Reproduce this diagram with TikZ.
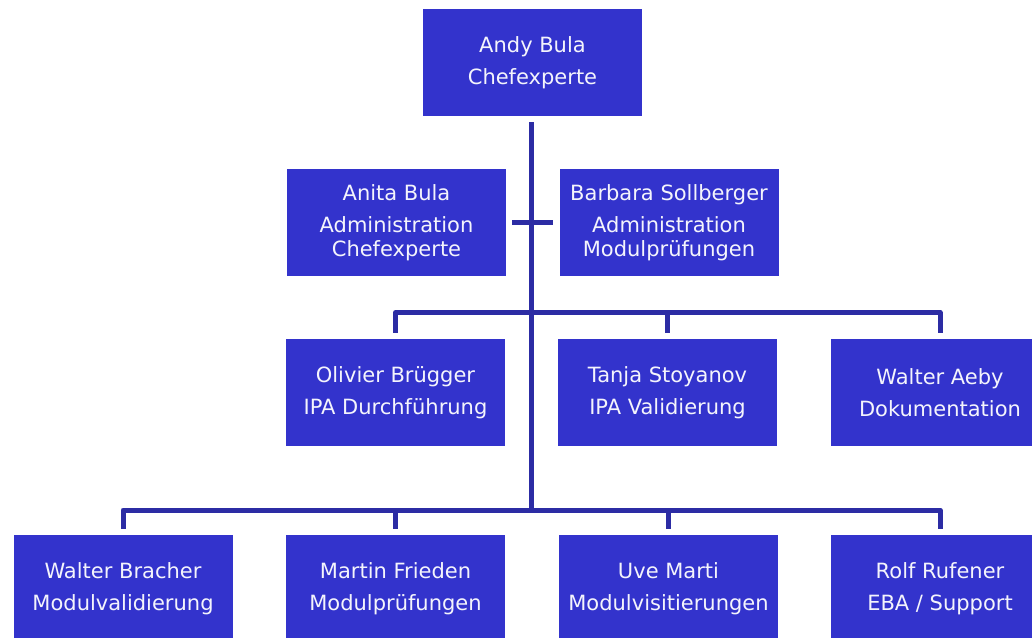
\documentclass[tikz,border=0pt]{standalone}
\usepackage{fontspec}
\setmainfont{DejaVu Sans}
\definecolor{boxblue}{HTML}{3333CC}
\definecolor{linkblue}{HTML}{2C2CA4}
\definecolor{txt}{HTML}{F4F4FC}
\newcommand\mytopstrut{\rule{0pt}{15pt}}
\begin{document}
\begin{tikzpicture}[x=0.75pt,y=-0.75pt,
  person/.style={rectangle, fill=boxblue, text=txt, inner sep=0pt,
    minimum width=164.25pt, minimum height=80.25pt, align=center,
    font=\fontsize{15.75}{18}\selectfont, execute at begin node=\mytopstrut},
  link/.style={draw=linkblue, line width=3.75pt, line join=round, line cap=butt}]
\path[use as bounding box] (0,0) rectangle (1032,637);
\clip (0,0) rectangle (1032,637);
\node[person] (top) at (532.5,62.5) {Andy Bula\\[6pt]Chefexperte};
\node[person] (anita) at (396.5,222.5) {Anita Bula\\[6pt]Administration\\Chefexperte};
\node[person] (barbara) at (669,222.5) {Barbara Sollberger\\[6pt]Administration\\Modulprüfungen};
\node[person] (olivier) at (395.5,392.5) {Olivier Brügger\\[6pt]IPA Durchführung};
\node[person] (tanja) at (667.5,392.5) {Tanja Stoyanov\\[6pt]IPA Validierung};
\node[person] (aeby) at (940,392.5) {Walter Aeby\\[6pt]Dokumentation};
\node[person] (bracher) at (123,588.5) {Walter Bracher\\[6pt]Modulvalidierung};
\node[person] (frieden) at (395.5,588.5) {Martin Frieden\\[6pt]Modulprüfungen};
\node[person] (marti) at (668.5,588.5) {Uve Marti\\[6pt]Modulvisitierungen};
\node[person] (rufener) at (940,588.5) {Rolf Rufener\\[6pt]EBA / Support};
\coordinate (bus1) at (531.5,312.5);
\coordinate (bus2) at (531.5,510);
% main trunk
\draw[link] ([yshift=-4.5pt]top.south -| bus1) -- (bus2);
% cross bar for staff
\draw[link] ([xshift=4.5pt]anita.east) -- ([xshift=-4.5pt]barbara.west);
% first level bus
\draw[link] ([yshift=4.5pt]olivier.north) -- (olivier.north |- bus1) -- (aeby.north |- bus1) -- ([yshift=4.5pt]aeby.north);
\draw[link] (tanja.north |- bus1) -- ([yshift=4.5pt]tanja.north);
% second level bus
\draw[link] ([yshift=4.5pt]bracher.north) -- (bracher.north |- bus2) -- (rufener.north |- bus2) -- ([yshift=4.5pt]rufener.north);
\draw[link] (frieden.north |- bus2) -- ([yshift=4.5pt]frieden.north);
\draw[link] (marti.north |- bus2) -- ([yshift=4.5pt]marti.north);
\end{tikzpicture}
\end{document}
